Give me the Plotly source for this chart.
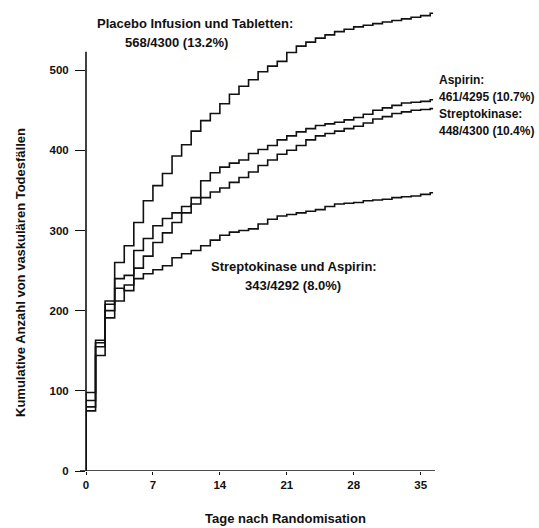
import plotly.graph_objects as go

days = list(range(0, 37))
x_ticks = [0, 7, 14, 21, 28, 35]
x_tick_labels = ["0", "7", "14", "21", "28", "35"]
y_ticks = [0, 100, 200, 300, 400, 500]
y_tick_labels = ["0", "100", "200", "300", "400", "500"]

placebo = [98, 163, 212, 260, 281, 310, 337, 356, 371, 393, 407, 424, 437, 446, 458,
           470, 480, 488, 498, 505, 511, 522, 530, 535, 540, 544, 548, 551, 554, 556,
           558, 560, 562, 564, 566, 568, 571]
aspirin = [88, 160, 208, 240, 244, 275, 290, 306, 315, 322, 330, 341, 362, 372, 379,
           384, 388, 396, 401, 406, 413, 418, 423, 427, 431, 433, 435, 438, 441, 445,
           450, 453, 456, 459, 460, 461, 463]
streptokinase = [80, 155, 200, 228, 225, 253, 268, 285, 297, 310, 322, 333, 341, 348, 353,
                 360, 366, 373, 381, 388, 395, 400, 406, 413, 418, 421, 424, 427, 430, 434,
                 439, 442, 446, 448, 450, 451, 452]
sk_aspirin = [75, 144, 191, 212, 232, 240, 246, 251, 256, 266, 271, 275, 281, 288, 294,
              298, 300, 302, 308, 314, 318, 320, 322, 324, 326, 330, 333, 334, 335, 337,
              338, 339, 341, 342, 343, 345, 347]

series = [placebo, aspirin, streptokinase, sk_aspirin]

X0, X1 = 0, 36.5
Y0, Y1 = 0, 585
L, R, T, B = 86, 104, 2, 57
W, H = 539, 528
PW = W - L - R
PH = H - T - B


def px(xpix):
    return (xpix - L) / PW


def py(ypix):
    return (H - B - ypix) / PH


fig = go.Figure()
for s in series:
    fig.add_trace(go.Scatter(
        x=[0] + days + [36.3], y=[0] + s + [s[-1]],
        mode="lines", line=dict(color="#111111", width=1.6, shape="hv"),
        showlegend=False, hoverinfo="skip"))

font = dict(family="Liberation Sans, Arial, sans-serif", size=11.5, color="#111111")
afont = dict(family="Liberation Sans, Arial, sans-serif", size=13, color="#111111")
rfont = dict(family="Liberation Sans, Arial, sans-serif", size=12, color="#111111")

fig.update_layout(
    width=W, height=H,
    margin=dict(l=L, r=R, t=T, b=B),
    paper_bgcolor="white", plot_bgcolor="white",
    xaxis=dict(range=[X0, X1], tickvals=x_ticks, ticktext=["<b>%s</b>" % t for t in x_tick_labels],
               ticks="outside", ticklen=3, tickwidth=1.2, tickcolor="#111111",
               showgrid=False, zeroline=False, showline=False, tickfont=font),
    yaxis=dict(range=[Y0, Y1], tickvals=y_ticks, ticktext=["<b>%s</b>" % t for t in y_tick_labels],
               ticks="outside", ticklen=10, tickwidth=1.2, tickcolor="#111111",
               showgrid=False, zeroline=False, showline=False, tickfont=font,
               ticklabelstandoff=4),
)

# axis lines
fig.add_shape(type="line", xref="paper", yref="y", x0=0, x1=0, y0=0, y1=523,
              line=dict(color="#111111", width=1.6))
fig.add_shape(type="line", xref="paper", yref="y", x0=px(80), x1=px(435), y0=0, y1=0,
              line=dict(color="#111111", width=1.6))

ann = [
    ("<b>Placebo Infusion und Tabletten:</b>", 95, 23, "left", afont),
    ("<b>568/4300 (13.2%)</b>", 123, 43, "left", afont),
    ("<b>Aspirin:</b>", 437, 80, "left", rfont),
    ("<b>461/4295 (10.7%)</b>", 437, 97, "left", rfont),
    ("<b>Streptokinase:</b>", 437, 114, "left", rfont),
    ("<b>448/4300 (10.4%)</b>", 437, 131, "left", rfont),
    ("<b>Streptokinase und Aspirin:</b>", 294, 266, "center", afont),
    ("<b>343/4292 (8.0%)</b>", 293, 285, "center", afont),
]
for text, xp, yp, anchor, f in ann:
    fig.add_annotation(text=text, xref="paper", yref="paper", x=px(xp), y=py(yp),
                       xanchor=anchor, yanchor="middle", showarrow=False, font=f)

fig.add_annotation(text="<b>Kumulative Anzahl von vaskulären Todesfällen</b>", xref="paper", yref="paper",
                   x=px(20), y=py(273), textangle=-90, xanchor="center", yanchor="middle",
                   showarrow=False, font=afont)
fig.add_annotation(text="<b>Tage nach Randomisation</b>", xref="paper", yref="paper",
                   x=px(285), y=py(518), xanchor="center", yanchor="middle",
                   showarrow=False, font=afont)

fig.write_html("out.html", config={"displayModeBar": False},
               post_script="document.body.style.margin='0';document.body.style.overflow='hidden';")
